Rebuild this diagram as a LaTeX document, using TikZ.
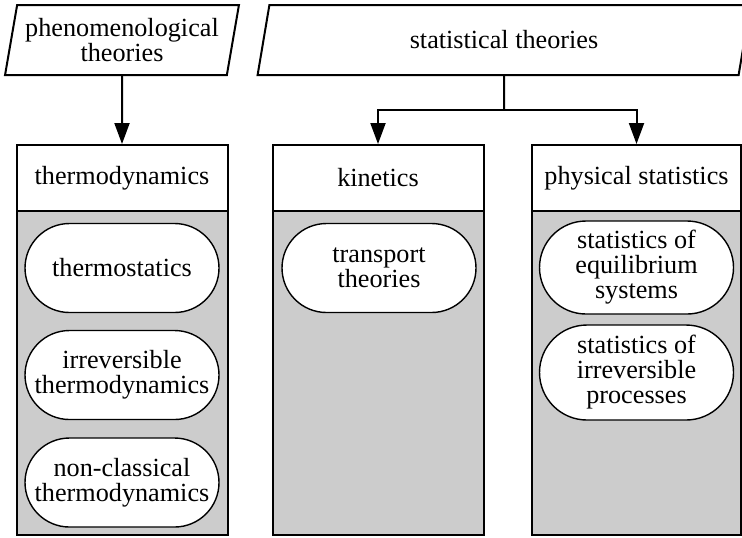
\documentclass[tikz,border=0pt]{standalone}
\usepackage{fontspec}
\setmainfont{Liberation Serif}
\usetikzlibrary{shapes.geometric,shapes.misc,arrows.meta}
\definecolor{boxgray}{HTML}{CCCCCC}
\tikzset{
  theory/.style={draw,line width=1pt,fill=white,trapezium,trapezium left angle=75.6,
    trapezium right angle=104.4,trapezium stretches=true,minimum height=35pt,
    align=center,inner sep=0pt},
  colhead/.style={draw,line width=1pt,fill=white,minimum width=105.5pt,
    minimum height=33pt,inner sep=0pt},
  colbody/.style={draw,line width=1pt,fill=boxgray,minimum width=105.5pt,
    minimum height=162pt,inner sep=0pt},
  item/.style={draw,line width=0.7pt,fill=white,rounded rectangle,
    minimum width=97pt,minimum height=44.5pt,align=center,inner sep=0pt},
  link/.style={line width=1pt,-{Triangle[width=7.5pt,length=10.5pt]}}
}

\begin{document}
\begin{tikzpicture}[x=0.5pt,y=-0.5pt,font=\fontsize{13.1}{12.5}\selectfont]
  \clip (0,0) rectangle (742,537);
  % theories
  \node[theory,minimum width=117pt] (phen) at (122,40) {phenomenological\\theories};
  \node[theory,minimum width=246.5pt] (stat) at (504,40) {statistical theories};
  % columns
  \node[colbody] (thermobody) at (122,373) {};
  \node[colbody] (kinbody) at (378,373) {};
  \node[colbody,minimum width=104.5pt] (physbody) at (636.5,373) {};
  \node[colhead] (thermo) at (122,178) {thermodynamics};
  \node[colhead] (kin) at (378,178) {kinetics};
  \node[colhead,minimum width=104.5pt] (phys) at (636.5,178) {physical statistics};
  % items
  \node[item] (tstat) at (122,268) {thermostatics};
  \node[item] (irrev) at (122,375) {irreversible\\thermodynamics};
  \node[item] (nonclass) at (122,482.5) {non-classical\\thermodynamics};
  \node[item] (transp) at (379,268) {transport\\theories};
  \node[item,minimum height=46.5pt] (eqsys) at (636.5,267.5) {statistics of\\equilibrium\\systems};
  \node[item,minimum height=47.5pt] (irrproc) at (636.5,372.5) {statistics of\\irreversible\\processes};
  % connectors
  \coordinate (split) at (504,110);
  \draw[link] (phen.south) -- (thermo.north);
  \draw[line width=1pt] (stat.south) -- (split);
  \draw[link] (split) -| (kin.north);
  \draw[link] (split) -| (phys.north);
\end{tikzpicture}
\end{document}
